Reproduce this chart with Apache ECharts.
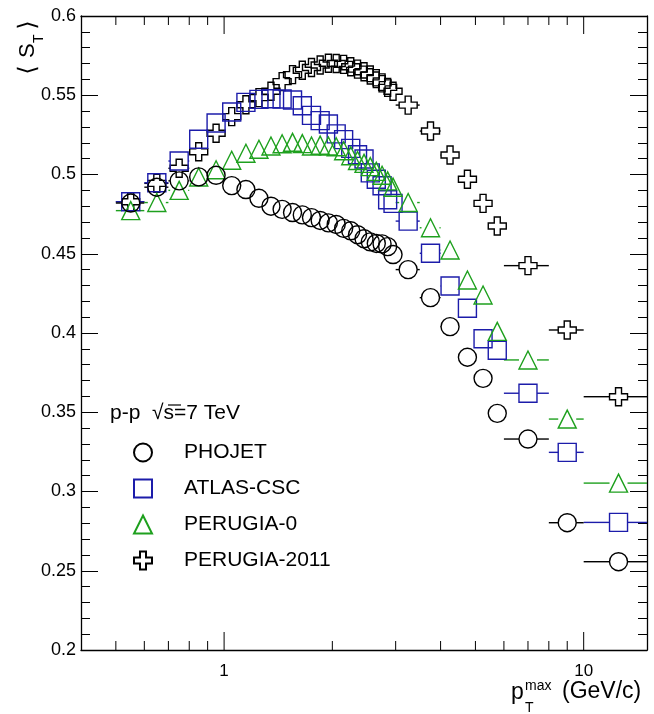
<!DOCTYPE html>
<html><head><meta charset="utf-8">
<script src="https://cdn.jsdelivr.net/npm/echarts@6/dist/echarts.min.js"></script>
<style>html,body{margin:0;padding:0;background:#fff}#c{width:654px;height:714px}</style>
</head><body><div id="c"></div>
<script>
// bin centres and edges (GeV/c)
const pT     = [0.55,0.65,0.75,0.85,0.95,1.05,1.15,1.25,1.35,1.45,1.55,1.65,1.75,1.85,1.95,2.05,2.15,2.25,2.35,2.45,2.55,2.65,2.75,2.85,2.95,3.25,3.75,4.25,4.75,5.25,5.75,7,9,12.5];
const ptLow  = [0.5,0.6,0.7,0.8,0.9,1.0,1.1,1.2,1.3,1.4,1.5,1.6,1.7,1.8,1.9,2.0,2.1,2.2,2.3,2.4,2.5,2.6,2.7,2.8,2.9,3.0,3.5,4.0,4.5,5.0,5.5,6,8,10];
const ptHigh = [0.6,0.7,0.8,0.9,1.0,1.1,1.2,1.3,1.4,1.5,1.6,1.7,1.8,1.9,2.0,2.1,2.2,2.3,2.4,2.5,2.6,2.7,2.8,2.9,3.0,3.5,4.0,4.5,5.0,5.5,6,8,10,15];

const phojet      = [0.482,0.492,0.496,0.4985,0.4995,0.493,0.4905,0.485,0.480,0.478,0.476,0.4745,0.4728,0.471,0.4695,0.4685,0.466,0.4645,0.462,0.4595,0.4575,0.4565,0.4562,0.4545,0.4495,0.440,0.4223,0.404,0.3847,0.3714,0.3493,0.3331,0.2803,0.2557];
const atlasCsc    = [0.4828,0.4948,0.5085,0.5222,0.5325,0.5394,0.5455,0.5474,0.5478,0.5476,0.5470,0.5434,0.5373,0.534,0.5319,0.5256,0.5220,0.5165,0.5125,0.5098,0.5010,0.4970,0.4929,0.4841,0.4818,0.4706,0.4503,0.4297,0.4156,0.3964,0.3891,0.3620,0.3247,0.2805];
const perugia0    = [0.4772,0.4823,0.4900,0.4984,0.5030,0.5090,0.5134,0.5159,0.5180,0.5194,0.5203,0.5195,0.5180,0.5185,0.5180,0.5175,0.5150,0.5118,0.5088,0.5070,0.5050,0.5020,0.4995,0.4960,0.4920,0.4823,0.4664,0.4524,0.4334,0.4240,0.4010,0.3830,0.3457,0.3053];
const perugia2011 = [0.4828,0.4944,0.5039,0.5144,0.5260,0.5365,0.5440,0.5485,0.5525,0.5586,0.5630,0.5658,0.5675,0.5691,0.5702,0.5700,0.5695,0.5680,0.5665,0.5648,0.5628,0.5605,0.5578,0.5550,0.5525,0.5438,0.5274,0.5123,0.4970,0.4818,0.4675,0.4425,0.4019,0.3598];

const xMajorTicks = [1,10];
const xMinorTicks = [0.5,0.6,0.7,0.8,0.9,2,3,4,5,6,7,8,9];
const xTickLabels = {1:'1',10:'10'};

const FONT = 'Liberation Sans, Arial, Helvetica, sans-serif';
const BLACK = '#000000', BLUE = '#1c1caa', GREEN = '#1ea01e';
const MS = 18, HALF = 9;
const crossPath = 'path://M1,0L2,0L2,1L3,1L3,2L2,2L2,3L1,3L1,2L0,2L0,1L1,1Z';

const defs = [
  {name:'PERUGIA-2011', vals:perugia2011, color:BLACK, symbol:crossPath},
  {name:'ATLAS-CSC', vals:atlasCsc, color:BLUE, symbol:'rect'},
  {name:'PERUGIA-0', vals:perugia0, color:GREEN, symbol:'triangle'},
  {name:'PHOJET', vals:phojet, color:BLACK, symbol:'circle'}
];

function errRender(color){
  return function(params, api){
    const y = api.value(3);
    const lo = api.coord([api.value(0), y]);
    const hi = api.coord([api.value(1), y]);
    const c = api.coord([api.value(2), y]);
    const ch = [];
    if (c[0]-HALF > lo[0]) ch.push({type:'line', shape:{x1:lo[0],y1:c[1],x2:c[0]-HALF,y2:c[1]}, style:{stroke:color,lineWidth:1.4}});
    if (hi[0] > c[0]+HALF) ch.push({type:'line', shape:{x1:c[0]+HALF,y1:c[1],x2:hi[0],y2:c[1]}, style:{stroke:color,lineWidth:1.4}});
    return {type:'group', children:ch};
  };
}

const series = [];
defs.forEach(d => {
  series.push({
    type:'custom', name:d.name+'-err', silent:true, xAxisIndex:0, yAxisIndex:0,
    renderItem: errRender(d.color),
    encode:{x:[0,1,2], y:3},
    data: pT.map((x,i)=>[ptLow[i], ptHigh[i], x, d.vals[i]]),
    z:2
  });
});
defs.forEach(d => {
  series.push({
    type:'scatter', name:d.name, xAxisIndex:0, yAxisIndex:0,
    symbol:d.symbol, symbolSize:MS,
    itemStyle:{color:'rgba(255,255,255,0)', borderColor:d.color, borderWidth:1.4, opacity:1},
    emphasis:{disabled:true},
    data: pT.map((x,i)=>[x, d.vals[i]]),
    z:3
  });
});
// x-axis tick marks (bottom and top), log positions via the axis
const tickData = xMajorTicks.map(v=>[v,18]).concat(xMinorTicks.map(v=>[v,9]));
series.push({
  type:'custom', silent:true, xAxisIndex:0, yAxisIndex:0,
  encode:{x:0},
  data: tickData,
  renderItem: function(params, api){
    const v = api.value(0), len = api.value(1);
    const b = api.coord([v, 0.2]), t = api.coord([v, 0.6]);
    return {type:'group', children:[
      {type:'line', shape:{x1:b[0],y1:b[1],x2:b[0],y2:b[1]-len}, style:{stroke:'#000',lineWidth:1}},
      {type:'line', shape:{x1:t[0],y1:t[1],x2:t[0],y2:t[1]+len}, style:{stroke:'#000',lineWidth:1}}
    ]};
  },
  z:1
});

const yCommon = {
  type:'value', min:0.2, max:0.6, interval:0.05,
  axisLine:{show:true, lineStyle:{color:'#000', width:1.3}},
  axisTick:{show:true, inside:true, length:17, lineStyle:{color:'#000'}},
  minorTick:{show:true, splitNumber:5, length:9, lineStyle:{color:'#000'}},
  splitLine:{show:false}
};

const chart = echarts.init(document.getElementById('c'), null, {renderer:'canvas'});
chart.setOption({
  animation:false,
  backgroundColor:'#fff',
  grid:{left:81, right:7, top:16, bottom:64, containLabel:false},
  xAxis:[
    {type:'log', logBase:10, min:0.4, max:15, position:'bottom',
     axisLine:{show:true, onZero:false, lineStyle:{color:'#000', width:1.3}},
     axisTick:{show:false}, splitLine:{show:false}, minorTick:{show:false},
     axisLabel:{show:true, margin:13, fontSize:17, fontFamily:FONT, color:'#000',
       showMinLabel:false, showMaxLabel:false,
       formatter: v => { for (const k of xMajorTicks) if (Math.abs(v-k) < 1e-6*k) return xTickLabels[k]; return ''; }}},
    {type:'log', logBase:10, min:0.4, max:15, position:'top',
     axisLine:{show:true, onZero:false, lineStyle:{color:'#000', width:1.3}},
     axisTick:{show:false}, axisLabel:{show:false}, splitLine:{show:false}}
  ],
  yAxis:[
    Object.assign({}, yCommon, {position:'left',
      axisLabel:{show:true, margin:5, fontSize:18, fontFamily:FONT, color:'#000'}}),
    Object.assign({}, yCommon, {position:'right', axisLabel:{show:false}})
  ],
  legend:{
    orient:'vertical', left:133, top:442, padding:0,
    itemWidth:18, itemHeight:18, itemGap:15,
    selectedMode:false,
    textStyle:{fontSize:21, fontFamily:FONT, color:'#000', padding:[0,0,0,27]},
    data:['PHOJET','ATLAS-CSC','PERUGIA-0','PERUGIA-2011']
  },
  graphic:[
    {type:'text', left:110, top:403, style:{text:'p-p  \u221As=7 TeV', fontSize:21, fontFamily:FONT, fill:'#000'}},
    {type:'line', shape:{x1:168, y1:405, x2:181, y2:405}, style:{stroke:'#000', lineWidth:1.2}},
    // y-axis title <S_T>, rotated
    {type:'group', x:29, y:46, rotation:Math.PI/2, children:[
      {type:'text', x:-24, y:0, style:{text:'\u27E8', fontSize:24, fontFamily:'DejaVu Sans', fill:'#000', textAlign:'center', textVerticalAlign:'middle'}},
      {type:'text', x:-12, y:-1, style:{text:'S', fontSize:22, fontFamily:FONT, fill:'#000', textAlign:'left', textVerticalAlign:'middle'}},
      {type:'text', x:3, y:10, style:{text:'T', fontSize:14, fontFamily:FONT, fill:'#000', textAlign:'left', textVerticalAlign:'middle'}},
      {type:'text', x:21, y:0, style:{text:'\u27E9', fontSize:24, fontFamily:'DejaVu Sans', fill:'#000', textAlign:'center', textVerticalAlign:'middle'}}
    ]},
    // x-axis title p_T^max (GeV/c)
    {type:'text', x:511, y:693, style:{text:'p', fontSize:23, fontFamily:FONT, fill:'#000', textAlign:'left', textVerticalAlign:'middle'}},
    {type:'text', x:525, y:686, style:{text:'max', fontSize:14, fontFamily:FONT, fill:'#000', textAlign:'left', textVerticalAlign:'middle'}},
    {type:'text', x:525, y:708, style:{text:'T', fontSize:14, fontFamily:FONT, fill:'#000', textAlign:'left', textVerticalAlign:'middle'}},
    {type:'text', x:562, y:692, style:{text:'(GeV/c)', fontSize:23, fontFamily:FONT, fill:'#000', textAlign:'left', textVerticalAlign:'middle'}}
  ],
  series: series
});
</script></body></html>
